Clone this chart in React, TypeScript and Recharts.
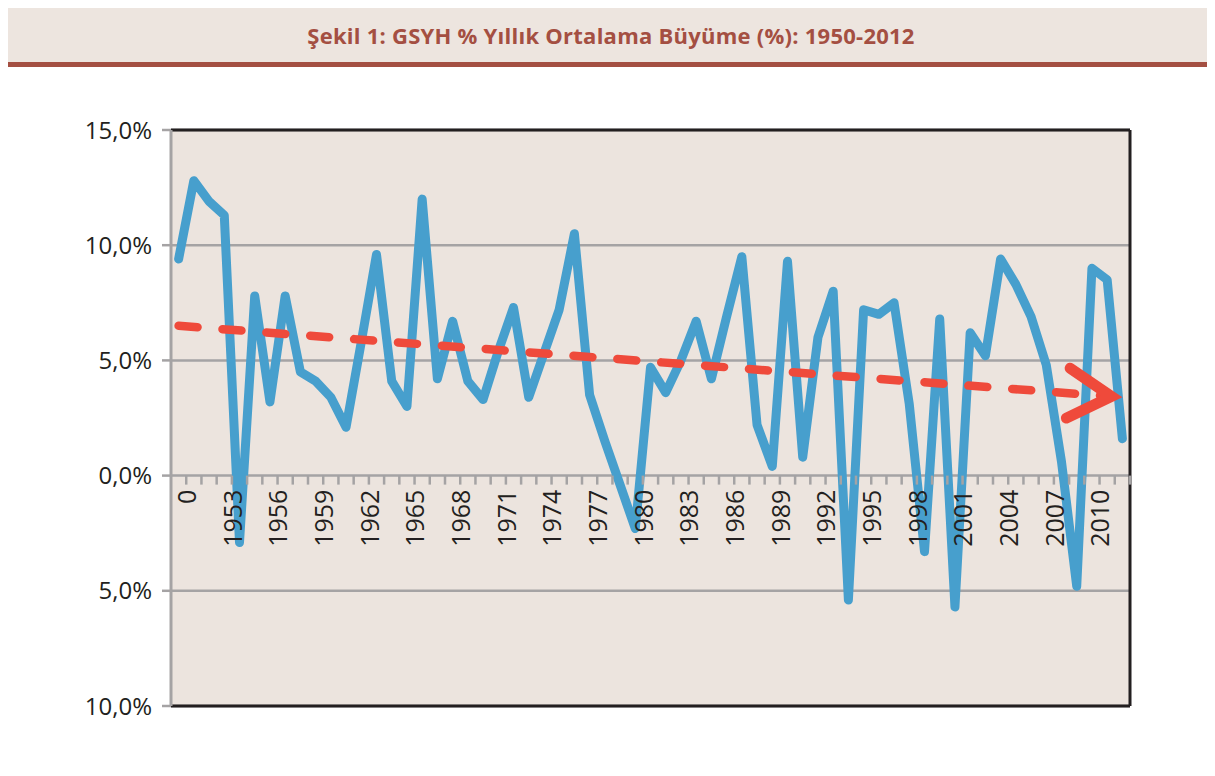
import React from "react";
import {
  CartesianGrid,
  Line,
  LineChart,
  ReferenceLine,
  XAxis,
  YAxis,
} from "recharts";

// category labels as printed on the chart (first one shows "0")
const years = [
  "0", "1951", "1952", "1953", "1954", "1955", "1956", "1957", "1958", "1959",
  "1960", "1961", "1962", "1963", "1964", "1965", "1966", "1967", "1968", "1969",
  "1970", "1971", "1972", "1973", "1974", "1975", "1976", "1977", "1978", "1979",
  "1980", "1981", "1982", "1983", "1984", "1985", "1986", "1987", "1988", "1989",
  "1990", "1991", "1992", "1993", "1994", "1995", "1996", "1997", "1998", "1999",
  "2000", "2001", "2002", "2003", "2004", "2005", "2006", "2007", "2008", "2009",
  "2010", "2011", "2012",
];

// GDP growth, %
const growth = [
  9.4, 12.8, 11.9, 11.3, -2.9, 7.8, 3.2, 7.8, 4.5, 4.1,
  3.4, 2.1, 5.8, 9.6, 4.1, 3.0, 12.0, 4.2, 6.7, 4.1,
  3.3, 5.4, 7.3, 3.4, 5.3, 7.2, 10.5, 3.5, 1.5, -0.4,
  -2.3, 4.7, 3.6, 5.0, 6.7, 4.2, 6.9, 9.5, 2.2, 0.4,
  9.3, 0.8, 6.0, 8.0, -5.4, 7.2, 7.0, 7.5, 3.1, -3.3,
  6.8, -5.7, 6.2, 5.2, 9.4, 8.3, 6.9, 4.8, 0.6, -4.8,
  9.0, 8.5, 1.6,
];

const yTicks = [-10, -5, 0, 5, 10, 15];
const trendStart = 6.5;
const trendEnd = 3.4;
const labelEvery = 3;

const title = "Şekil 1: GSYH % Yıllık Ortalama Büyüme (%): 1950-2012";

const data = years.map((year, i) => ({ year, growth: growth[i] }));

const W = 1215;
const H = 776;
const MARGIN = { top: 129, right: 84, bottom: 69, left: 0 };
const Y_AXIS_W = 171;
const PLOT_W = W - MARGIN.left - MARGIN.right - Y_AXIS_W - 1;
const PLOT_H = H - MARGIN.top - MARGIN.bottom - 2;
const Y_MIN = yTicks[0];
const Y_MAX = yTicks[yTicks.length - 1];
const BAND = PLOT_W / years.length;

const GRID = "#a5a3a4";
const INK = "#231f20";
const BLUE = "#479fcd";
const RED = "#ef4a3b";
const BROWN = "#a44f42";
const BEIGE = "#ece4de";

const pct = (v: number) => Math.abs(v).toFixed(1).replace(".", ",") + "%";

// x axis sits on the zero line, so ticks are lifted from the plot bottom
function YearTick(props: any) {
  const { x, y, payload, index } = props;
  const y0 = y - (PLOT_H * (0 - Y_MIN)) / (Y_MAX - Y_MIN);
  const edge = x + BAND / 2;
  return (
    <g>
      <line x1={edge} x2={edge} y1={y0} y2={y0 + 9} stroke={GRID} strokeWidth={2.5} />
      {index % labelEvery === 0 && (
        <text
          transform={`translate(${x + 17.5},${y0 + 14}) rotate(-90)`}
          textAnchor="end"
          fontSize={25}
          fill={INK}
          fontFamily="Open Sans"
        >
          {payload.value}
        </text>
      )}
    </g>
  );
}

function TrendArrow(props: any) {
  const { x1, y1, x2, y2 } = props;
  const len = Math.hypot(x2 - x1, y2 - y1);
  const ux = (x2 - x1) / len;
  const uy = (y2 - y1) / len;
  const vx = x2 - ux * 11;
  const vy = y2 - uy * 11;
  const arm = 50;
  const a = (30 * Math.PI) / 180;
  const rot = (s: number) => ({
    x: vx + arm * (-ux * Math.cos(s * a) + uy * Math.sin(s * a)),
    y: vy + arm * (-uy * Math.cos(s * a) - ux * Math.sin(s * a)),
  });
  const p1 = rot(1);
  const p2 = rot(-1);
  return (
    <g>
      <line
        x1={x1}
        y1={y1}
        x2={vx}
        y2={vy}
        stroke={RED}
        strokeWidth={8.5}
        strokeDasharray="19 25"
        strokeLinecap="round"
      />
      <path
        d={`M${p1.x},${p1.y}L${vx},${vy}L${p2.x},${p2.y}`}
        fill="none"
        stroke={RED}
        strokeWidth={11}
        strokeLinejoin="miter"
        strokeLinecap="round"
      />
    </g>
  );
}

export default function App() {
  return (
    <div
      style={{
        position: "relative",
        width: W,
        height: H,
        margin: -8,
        background: "#fff",
        overflow: "hidden",
        fontFamily: "'Open Sans', sans-serif",
      }}
    >
      <div
        style={{
          position: "absolute",
          left: 6,
          top: 0,
          width: 2,
          height: H,
          background: "#c98e88",
        }}
      />
      <div
        style={{
          position: "absolute",
          left: 7,
          top: 0,
          width: W - 7,
          height: 55,
          borderTop: `6px solid ${BROWN}`,
          borderBottom: `5px solid ${BROWN}`,
          background: "#ede5df",
          display: "flex",
          alignItems: "center",
          justifyContent: "center",
          paddingTop: 1,
          boxSizing: "content-box",
          color: BROWN,
          fontWeight: 700,
          fontSize: 22,
          letterSpacing: 0.25,
        }}
      >
        {title}
      </div>
      <div
        style={{
          position: "absolute",
          left: 6,
          top: 771,
          width: W - 6,
          height: 5,
          background: BROWN,
        }}
      />
      <LineChart
        width={W}
        height={H}
        data={data}
        margin={MARGIN}
        style={{ position: "absolute", left: 0, top: 0 }}
      >
        <CartesianGrid vertical={false} stroke={GRID} strokeWidth={2.5} fill={BEIGE} />
        <XAxis
          dataKey="year"
          interval={0}
          height={1}
          padding={{ left: BAND / 2, right: BAND / 2 }}
          tickSize={0}
          tickMargin={0}
          axisLine={{ stroke: INK, strokeWidth: 3 }}
          tickLine={false}
          tick={(p: any) => <YearTick {...p} />}
        />
        <XAxis
          xAxisId="top"
          orientation="top"
          dataKey="year"
          height={1}
          tick={false}
          tickLine={false}
          axisLine={{ stroke: INK, strokeWidth: 3 }}
        />
        <YAxis
          width={Y_AXIS_W}
          domain={[Y_MIN, Y_MAX]}
          ticks={yTicks}
          tickFormatter={pct}
          tickSize={9}
          tickMargin={10}
          axisLine={{ stroke: GRID, strokeWidth: 3 }}
          tickLine={{ stroke: GRID, strokeWidth: 2.5 }}
          tick={{ fill: INK, fontSize: 24, fontFamily: "Open Sans" }}
        />
        <YAxis
          yAxisId="right"
          orientation="right"
          width={1}
          domain={[Y_MIN, Y_MAX]}
          tick={false}
          tickLine={false}
          axisLine={{ stroke: INK, strokeWidth: 3 }}
        />
        <Line
          type="linear"
          dataKey="growth"
          stroke={BLUE}
          strokeWidth={9}
          strokeLinejoin="round"
          strokeLinecap="round"
          dot={false}
          activeDot={false}
          isAnimationActive={false}
        />
        <ReferenceLine
          segment={[
            { x: years[0], y: trendStart },
            { x: years[years.length - 1], y: trendEnd },
          ]}
          shape={<TrendArrow />}
        />
      </LineChart>
    </div>
  );
}
